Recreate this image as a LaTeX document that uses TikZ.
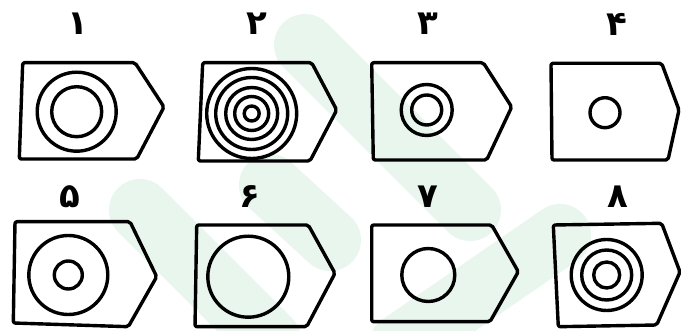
\documentclass[tikz,border=0pt]{standalone}
\usepackage{fontspec}
\newfontfamily\fa[Script=Arabic]{DejaVu Sans}
\TeXXeTstate=1
\definecolor{wm}{RGB}{233,246,238}
\tikzset{
  tag/.style={draw=black, line width=3.4pt, line join=round, rounded corners=2pt},
  ring/.style={draw=black, line width=3.4pt},
  num/.style={font=\fa\bfseries\fontsize{34}{34}\selectfont, inner sep=0pt},
  wmband/.style={draw=wm, line width=62pt, line cap=round}
}
\begin{document}
\begin{tikzpicture}[x=1pt,y=-1pt]
\useasboundingbox (0,0) rectangle (681,331);
\fill[white] (0,0) rectangle (681,331);
% watermark
\draw[wmband] (305,45) -- (470,210);
\draw[wmband] (140,210) -- (270,340);
\draw[wmband] (270,185) -- (330,240);
\draw[wmband] (400,345) -- (560,235);
% labels
\node[num] (l1) at (78,24) {\beginR ۱\endR};
\node[num] (l2) at (257,24) {\beginR ۲\endR};
\node[num] (l3) at (428,24) {\beginR ۳\endR};
\node[num] (l4) at (617,24) {\beginR ۴\endR};
\node[num] (l5) at (70,197) {\beginR ۵\endR};
\node[num] (l6) at (250,197) {\beginR ۶\endR};
\node[num] (l7) at (428,197) {\beginR ۷\endR};
\node[num] (l8) at (618,197) {\beginR ۸\endR};
% shapes
\draw[tag] (22.7,62.7) -- (135,62.7) -- (164,107) -- (136.7,159) -- (19.3,159) -- cycle;
\draw[tag] (202.7,62.7) -- (311.7,62.7) -- (336.7,110) -- (310,161) -- (198.3,161) -- cycle;
\draw[tag] (371.7,62.7) -- (483.3,62.7) -- (511.7,107) -- (486.7,160) -- (373.3,160) -- cycle;
\draw[tag] (551,63.3) -- (661.7,63.3) -- (679,110) -- (668,160) -- (552,160) -- cycle;
\draw[tag] (15,221.7) -- (130,221.7) -- (156.7,276.7) -- (128.3,326.7) -- (13.3,323) -- cycle;
\draw[tag] (196.7,225) -- (308.3,225) -- (335,273.3) -- (306.7,326.7) -- (195,326.7) -- cycle;
\draw[tag] (371.7,225) -- (491.7,225) -- (518.3,271.7) -- (490,321.7) -- (371.7,321.7) -- cycle;
\draw[tag] (553.3,225) -- (661.7,223.3) -- (680,272) -- (656.7,325) -- (558.3,326.7) -- cycle;
% circles
\foreach \r in {39.5,25} \draw[ring] (76.7,111.7) circle (\r);
\foreach \r in {45,36,26,17,7.5} \draw[ring] (251.7,113.5) circle (\r);
\foreach \r in {25.5,15} \draw[ring] (426.7,110) circle (\r);
\draw[ring] (605,112.7) circle (15);
\foreach \r in {39.5,14} \draw[ring] (68.3,275) circle (\r);
\draw[ring] (248.3,276.7) circle (40.5);
\draw[ring] (428.3,275) circle (26.5);
\foreach \r in {35.5,25,13} \draw[ring] (606.7,275) circle (\r);
\end{tikzpicture}
\end{document}
